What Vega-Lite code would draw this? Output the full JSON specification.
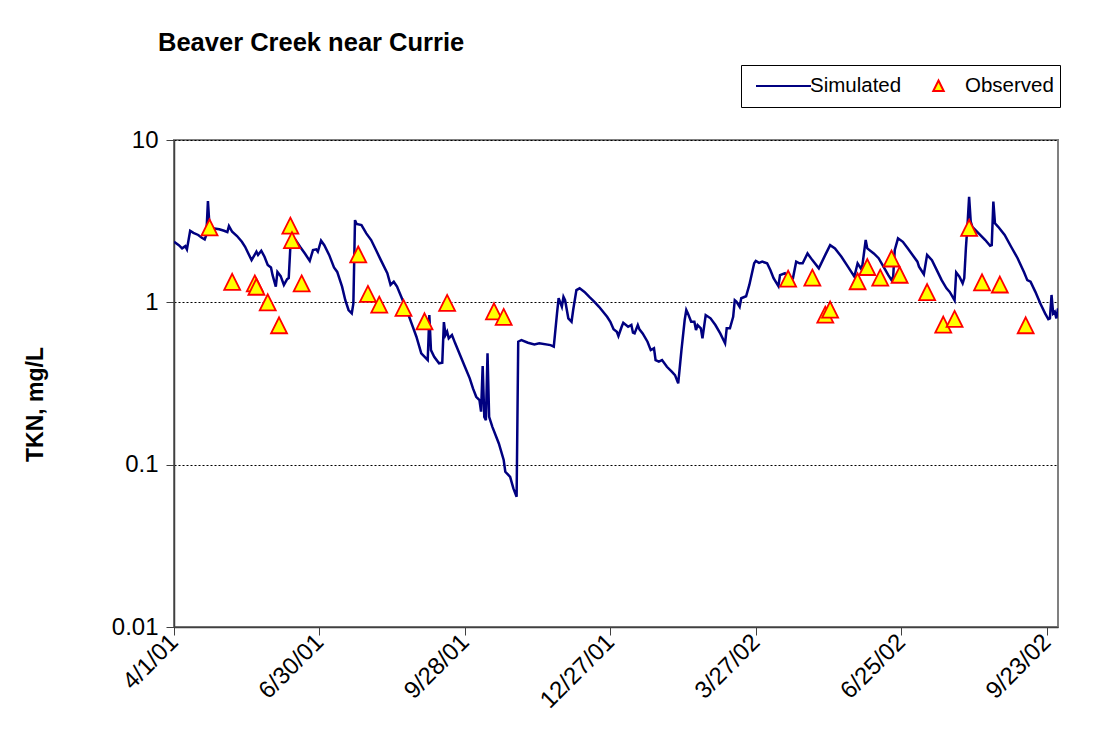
{
  "$schema": "https://vega.github.io/schema/vega-lite/v6.json",
  "autosize": "none",
  "width": 884,
  "height": 487,
  "padding": {"left": 174, "top": 140, "right": 50, "bottom": 121},
  "background": "#FFFFFF",
  "config": {
    "font": "Liberation Sans",
    "view": {"stroke": "#808080", "strokeWidth": 2},
    "axis": {"labelFont": "Liberation Sans", "titleFont": "Liberation Sans", "labelColor": "#000000", "titleColor": "#000000", "domainColor": "#404040", "domainWidth": 1.5, "tickColor": "#404040", "tickWidth": 1, "tickSize": 8}
  },
  "title": {"text": "Beaver Creek near Currie", "anchor": "start", "frame": "group", "font": "Liberation Sans", "fontSize": 25.5, "fontWeight": "bold", "color": "#000000", "baseline": "alphabetic", "offset": -12, "dx": -16},
  "datasets": {
    "sim": [
      {"date": "2001-04-01", "tkn": 2.36}, {"date": "2001-04-04", "tkn": 2.25}, {"date": "2001-04-06", "tkn": 2.15}, {"date": "2001-04-08", "tkn": 2.22}, {"date": "2001-04-09", "tkn": 2.12},
      {"date": "2001-04-11", "tkn": 2.76}, {"date": "2001-04-13", "tkn": 2.68}, {"date": "2001-04-16", "tkn": 2.60}, {"date": "2001-04-18", "tkn": 2.51}, {"date": "2001-04-20", "tkn": 2.44},
      {"date": "2001-04-21", "tkn": 2.60}, {"date": "2001-04-22", "tkn": 4.21}, {"date": "2001-04-23", "tkn": 2.92}, {"date": "2001-04-25", "tkn": 2.86}, {"date": "2001-04-29", "tkn": 2.82},
      {"date": "2001-05-02", "tkn": 2.76}, {"date": "2001-05-04", "tkn": 2.71}, {"date": "2001-05-05", "tkn": 2.95}, {"date": "2001-05-07", "tkn": 2.72}, {"date": "2001-05-10", "tkn": 2.56},
      {"date": "2001-05-13", "tkn": 2.36}, {"date": "2001-05-15", "tkn": 2.20}, {"date": "2001-05-17", "tkn": 2.00}, {"date": "2001-05-19", "tkn": 1.82}, {"date": "2001-05-22", "tkn": 2.05},
      {"date": "2001-05-23", "tkn": 1.96}, {"date": "2001-05-25", "tkn": 2.08}, {"date": "2001-05-27", "tkn": 1.91}, {"date": "2001-05-29", "tkn": 1.70}, {"date": "2001-05-31", "tkn": 1.64},
      {"date": "2001-06-01", "tkn": 1.47}, {"date": "2001-06-03", "tkn": 1.25}, {"date": "2001-06-04", "tkn": 1.54}, {"date": "2001-06-06", "tkn": 1.45}, {"date": "2001-06-08", "tkn": 1.28},
      {"date": "2001-06-10", "tkn": 1.39}, {"date": "2001-06-11", "tkn": 1.41}, {"date": "2001-06-12", "tkn": 2.20}, {"date": "2001-06-13", "tkn": 2.48}, {"date": "2001-06-15", "tkn": 2.44},
      {"date": "2001-06-18", "tkn": 2.20}, {"date": "2001-06-21", "tkn": 2.00}, {"date": "2001-06-24", "tkn": 1.80}, {"date": "2001-06-26", "tkn": 2.10}, {"date": "2001-06-28", "tkn": 2.12},
      {"date": "2001-06-29", "tkn": 2.05}, {"date": "2001-07-01", "tkn": 2.40}, {"date": "2001-07-03", "tkn": 2.25}, {"date": "2001-07-06", "tkn": 1.96}, {"date": "2001-07-09", "tkn": 1.64},
      {"date": "2001-07-11", "tkn": 1.54}, {"date": "2001-07-14", "tkn": 1.25}, {"date": "2001-07-16", "tkn": 1.03}, {"date": "2001-07-18", "tkn": 0.897}, {"date": "2001-07-20", "tkn": 0.855},
      {"date": "2001-07-21", "tkn": 0.986}, {"date": "2001-07-22", "tkn": 3.21}, {"date": "2001-07-23", "tkn": 3.04}, {"date": "2001-07-26", "tkn": 2.99}, {"date": "2001-07-29", "tkn": 2.66},
      {"date": "2001-08-01", "tkn": 2.42}, {"date": "2001-08-04", "tkn": 2.10}, {"date": "2001-08-07", "tkn": 1.82}, {"date": "2001-08-11", "tkn": 1.51}, {"date": "2001-08-13", "tkn": 1.28},
      {"date": "2001-08-15", "tkn": 1.34}, {"date": "2001-08-17", "tkn": 1.25}, {"date": "2001-08-20", "tkn": 1.06}, {"date": "2001-08-23", "tkn": 0.897}, {"date": "2001-08-26", "tkn": 0.742},
      {"date": "2001-08-29", "tkn": 0.614}, {"date": "2001-09-01", "tkn": 0.485}, {"date": "2001-09-04", "tkn": 0.452}, {"date": "2001-09-05", "tkn": 0.441}, {"date": "2001-09-06", "tkn": 0.835},
      {"date": "2001-09-07", "tkn": 0.508}, {"date": "2001-09-09", "tkn": 0.462}, {"date": "2001-09-12", "tkn": 0.421}, {"date": "2001-09-14", "tkn": 0.425}, {"date": "2001-09-15", "tkn": 0.756},
      {"date": "2001-09-16", "tkn": 0.629}, {"date": "2001-09-17", "tkn": 0.659}, {"date": "2001-09-18", "tkn": 0.600}, {"date": "2001-09-20", "tkn": 0.629}, {"date": "2001-09-22", "tkn": 0.559},
      {"date": "2001-09-25", "tkn": 0.474}, {"date": "2001-09-28", "tkn": 0.401}, {"date": "2001-10-01", "tkn": 0.340}, {"date": "2001-10-03", "tkn": 0.295}, {"date": "2001-10-05", "tkn": 0.262},
      {"date": "2001-10-07", "tkn": 0.250}, {"date": "2001-10-08", "tkn": 0.212}, {"date": "2001-10-09", "tkn": 0.405}, {"date": "2001-10-10", "tkn": 0.197}, {"date": "2001-10-11", "tkn": 0.188},
      {"date": "2001-10-12", "tkn": 0.485}, {"date": "2001-10-13", "tkn": 0.197}, {"date": "2001-10-15", "tkn": 0.171}, {"date": "2001-10-19", "tkn": 0.135}, {"date": "2001-10-22", "tkn": 0.107},
      {"date": "2001-10-23", "tkn": 0.0904}, {"date": "2001-10-26", "tkn": 0.0842}, {"date": "2001-10-28", "tkn": 0.0714}, {"date": "2001-10-30", "tkn": 0.0634}, {"date": "2001-10-31", "tkn": 0.572},
      {"date": "2001-11-02", "tkn": 0.586}, {"date": "2001-11-06", "tkn": 0.564}, {"date": "2001-11-10", "tkn": 0.551}, {"date": "2001-11-13", "tkn": 0.559}, {"date": "2001-11-20", "tkn": 0.545},
      {"date": "2001-11-22", "tkn": 0.533}, {"date": "2001-11-24", "tkn": 0.855}, {"date": "2001-11-25", "tkn": 1.06}, {"date": "2001-11-27", "tkn": 0.939}, {"date": "2001-11-28", "tkn": 1.08},
      {"date": "2001-11-29", "tkn": 1.03}, {"date": "2001-12-01", "tkn": 0.797}, {"date": "2001-12-03", "tkn": 0.759}, {"date": "2001-12-04", "tkn": 0.897}, {"date": "2001-12-06", "tkn": 1.19},
      {"date": "2001-12-08", "tkn": 1.22}, {"date": "2001-12-11", "tkn": 1.16}, {"date": "2001-12-14", "tkn": 1.08}, {"date": "2001-12-17", "tkn": 1.01}, {"date": "2001-12-20", "tkn": 0.939},
      {"date": "2001-12-25", "tkn": 0.815}, {"date": "2001-12-27", "tkn": 0.759}, {"date": "2001-12-29", "tkn": 0.682}, {"date": "2001-12-31", "tkn": 0.659}, {"date": "2002-01-01", "tkn": 0.620},
      {"date": "2002-01-03", "tkn": 0.707}, {"date": "2002-01-04", "tkn": 0.749}, {"date": "2002-01-07", "tkn": 0.707}, {"date": "2002-01-09", "tkn": 0.725}, {"date": "2002-01-10", "tkn": 0.650},
      {"date": "2002-01-11", "tkn": 0.644}, {"date": "2002-01-13", "tkn": 0.725}, {"date": "2002-01-14", "tkn": 0.682}, {"date": "2002-01-16", "tkn": 0.644}, {"date": "2002-01-19", "tkn": 0.572},
      {"date": "2002-01-21", "tkn": 0.508}, {"date": "2002-01-23", "tkn": 0.521}, {"date": "2002-01-24", "tkn": 0.441}, {"date": "2002-01-26", "tkn": 0.431}, {"date": "2002-01-28", "tkn": 0.441},
      {"date": "2002-01-31", "tkn": 0.401}, {"date": "2002-02-03", "tkn": 0.374}, {"date": "2002-02-05", "tkn": 0.356}, {"date": "2002-02-07", "tkn": 0.317}, {"date": "2002-02-08", "tkn": 0.401},
      {"date": "2002-02-09", "tkn": 0.508}, {"date": "2002-02-11", "tkn": 0.778}, {"date": "2002-02-12", "tkn": 0.897}, {"date": "2002-02-13", "tkn": 0.855}, {"date": "2002-02-15", "tkn": 0.759},
      {"date": "2002-02-17", "tkn": 0.759}, {"date": "2002-02-18", "tkn": 0.675}, {"date": "2002-02-19", "tkn": 0.725}, {"date": "2002-02-21", "tkn": 0.692}, {"date": "2002-02-22", "tkn": 0.600},
      {"date": "2002-02-24", "tkn": 0.835}, {"date": "2002-02-27", "tkn": 0.797}, {"date": "2002-03-02", "tkn": 0.725}, {"date": "2002-03-05", "tkn": 0.644}, {"date": "2002-03-08", "tkn": 0.559},
      {"date": "2002-03-09", "tkn": 0.692}, {"date": "2002-03-11", "tkn": 0.692}, {"date": "2002-03-13", "tkn": 0.815}, {"date": "2002-03-14", "tkn": 1.03}, {"date": "2002-03-15", "tkn": 1.01},
      {"date": "2002-03-17", "tkn": 0.939}, {"date": "2002-03-18", "tkn": 1.06}, {"date": "2002-03-21", "tkn": 1.09}, {"date": "2002-03-23", "tkn": 1.28}, {"date": "2002-03-26", "tkn": 1.74},
      {"date": "2002-03-27", "tkn": 1.80}, {"date": "2002-03-29", "tkn": 1.75}, {"date": "2002-03-31", "tkn": 1.78}, {"date": "2002-04-03", "tkn": 1.74}, {"date": "2002-04-05", "tkn": 1.58},
      {"date": "2002-04-07", "tkn": 1.41}, {"date": "2002-04-10", "tkn": 1.26}, {"date": "2002-04-11", "tkn": 1.47}, {"date": "2002-04-14", "tkn": 1.51}, {"date": "2002-04-16", "tkn": 1.44},
      {"date": "2002-04-19", "tkn": 1.41}, {"date": "2002-04-21", "tkn": 1.78}, {"date": "2002-04-23", "tkn": 1.74}, {"date": "2002-04-25", "tkn": 1.74}, {"date": "2002-04-28", "tkn": 2.00},
      {"date": "2002-05-01", "tkn": 1.82}, {"date": "2002-05-05", "tkn": 1.62}, {"date": "2002-05-09", "tkn": 1.96}, {"date": "2002-05-12", "tkn": 2.25}, {"date": "2002-05-15", "tkn": 2.15},
      {"date": "2002-05-19", "tkn": 1.91}, {"date": "2002-05-23", "tkn": 1.66}, {"date": "2002-05-27", "tkn": 1.44}, {"date": "2002-05-29", "tkn": 1.74}, {"date": "2002-05-31", "tkn": 1.62},
      {"date": "2002-06-01", "tkn": 1.70}, {"date": "2002-06-03", "tkn": 2.42}, {"date": "2002-06-04", "tkn": 2.15}, {"date": "2002-06-08", "tkn": 2.00}, {"date": "2002-06-11", "tkn": 1.87},
      {"date": "2002-06-14", "tkn": 1.66}, {"date": "2002-06-17", "tkn": 1.47}, {"date": "2002-06-19", "tkn": 1.37}, {"date": "2002-06-20", "tkn": 1.44}, {"date": "2002-06-21", "tkn": 2.10},
      {"date": "2002-06-23", "tkn": 2.48}, {"date": "2002-06-26", "tkn": 2.36}, {"date": "2002-06-29", "tkn": 2.15}, {"date": "2002-07-02", "tkn": 1.96}, {"date": "2002-07-05", "tkn": 1.78},
      {"date": "2002-07-06", "tkn": 1.66}, {"date": "2002-07-09", "tkn": 1.49}, {"date": "2002-07-11", "tkn": 1.96}, {"date": "2002-07-14", "tkn": 1.82}, {"date": "2002-07-17", "tkn": 1.58},
      {"date": "2002-07-20", "tkn": 1.37}, {"date": "2002-07-23", "tkn": 1.22}, {"date": "2002-07-25", "tkn": 1.16}, {"date": "2002-07-28", "tkn": 1.03}, {"date": "2002-07-29", "tkn": 1.53},
      {"date": "2002-07-31", "tkn": 1.44}, {"date": "2002-08-02", "tkn": 1.31}, {"date": "2002-08-03", "tkn": 1.41}, {"date": "2002-08-04", "tkn": 2.15}, {"date": "2002-08-05", "tkn": 2.99},
      {"date": "2002-08-06", "tkn": 4.47}, {"date": "2002-08-07", "tkn": 3.14}, {"date": "2002-08-08", "tkn": 2.92}, {"date": "2002-08-11", "tkn": 2.72}, {"date": "2002-08-16", "tkn": 2.42},
      {"date": "2002-08-19", "tkn": 2.23}, {"date": "2002-08-20", "tkn": 2.25}, {"date": "2002-08-21", "tkn": 4.17}, {"date": "2002-08-22", "tkn": 3.07}, {"date": "2002-08-24", "tkn": 2.92},
      {"date": "2002-08-28", "tkn": 2.60}, {"date": "2002-09-01", "tkn": 2.20}, {"date": "2002-09-05", "tkn": 1.87}, {"date": "2002-09-09", "tkn": 1.53}, {"date": "2002-09-11", "tkn": 1.37},
      {"date": "2002-09-13", "tkn": 1.34}, {"date": "2002-09-16", "tkn": 1.16}, {"date": "2002-09-19", "tkn": 0.986}, {"date": "2002-09-22", "tkn": 0.855}, {"date": "2002-09-24", "tkn": 0.789},
      {"date": "2002-09-25", "tkn": 0.797}, {"date": "2002-09-26", "tkn": 1.11}, {"date": "2002-09-27", "tkn": 0.855}, {"date": "2002-09-28", "tkn": 0.875}, {"date": "2002-09-29", "tkn": 0.797},
      {"date": "2002-09-30", "tkn": 0.918}
    ],
    "obs": [
      {"date": "2001-04-23", "tkn": 2.88, "series": "Observed"}, {"date": "2001-05-07", "tkn": 1.33, "series": "Observed"}, {"date": "2001-05-21", "tkn": 1.30, "series": "Observed"},
      {"date": "2001-05-22", "tkn": 1.24, "series": "Observed"}, {"date": "2001-05-29", "tkn": 0.994, "series": "Observed"}, {"date": "2001-06-05", "tkn": 0.718, "series": "Observed"},
      {"date": "2001-06-12", "tkn": 2.95, "series": "Observed"}, {"date": "2001-06-13", "tkn": 2.40, "series": "Observed"}, {"date": "2001-06-19", "tkn": 1.30, "series": "Observed"},
      {"date": "2001-07-24", "tkn": 1.96, "series": "Observed"}, {"date": "2001-07-30", "tkn": 1.12, "series": "Observed"}, {"date": "2001-08-06", "tkn": 0.962, "series": "Observed"},
      {"date": "2001-08-21", "tkn": 0.918, "series": "Observed"}, {"date": "2001-09-03", "tkn": 0.759, "series": "Observed"}, {"date": "2001-09-17", "tkn": 0.986, "series": "Observed"},
      {"date": "2001-10-16", "tkn": 0.875, "series": "Observed"}, {"date": "2001-10-22", "tkn": 0.808, "series": "Observed"}, {"date": "2002-04-16", "tkn": 1.39, "series": "Observed"},
      {"date": "2002-05-01", "tkn": 1.41, "series": "Observed"}, {"date": "2002-05-09", "tkn": 0.835, "series": "Observed"}, {"date": "2002-05-12", "tkn": 0.897, "series": "Observed"},
      {"date": "2002-05-29", "tkn": 1.34, "series": "Observed"}, {"date": "2002-06-04", "tkn": 1.64, "series": "Observed"}, {"date": "2002-06-12", "tkn": 1.41, "series": "Observed"},
      {"date": "2002-06-19", "tkn": 1.85, "series": "Observed"}, {"date": "2002-06-24", "tkn": 1.47, "series": "Observed"}, {"date": "2002-07-11", "tkn": 1.15, "series": "Observed"},
      {"date": "2002-07-21", "tkn": 0.725, "series": "Observed"}, {"date": "2002-07-28", "tkn": 0.786, "series": "Observed"}, {"date": "2002-08-06", "tkn": 2.86, "series": "Observed"},
      {"date": "2002-08-14", "tkn": 1.32, "series": "Observed"}, {"date": "2002-08-25", "tkn": 1.28, "series": "Observed"}, {"date": "2002-09-10", "tkn": 0.718, "series": "Observed"}
    ]
  },
  "encoding": {
    "x": {
      "field": "date", "type": "temporal",
      "scale": {"type": "utc", "domain": [{"year": 2001, "month": 4, "date": 1, "utc": true}, {"year": 2002, "month": 9, "date": 30, "utc": true}]},
      "axis": {
        "title": null, "grid": false,
        "values": [
          {"year": 2001, "month": 4, "date": 1, "utc": true}, {"year": 2001, "month": 6, "date": 30, "utc": true}, {"year": 2001, "month": 9, "date": 28, "utc": true},
          {"year": 2001, "month": 12, "date": 27, "utc": true}, {"year": 2002, "month": 3, "date": 27, "utc": true}, {"year": 2002, "month": 6, "date": 25, "utc": true},
          {"year": 2002, "month": 9, "date": 23, "utc": true}
        ],
        "labelExpr": "utcFormat(datum.value, '%-m/%-d/%y')",
        "labelAngle": -45, "labelAlign": "right", "labelBaseline": "middle", "labelFontSize": 24, "labelPadding": 3, "labelOverlap": false, "labelFlush": false
      }
    },
    "y": {
      "field": "tkn", "type": "quantitative",
      "scale": {"type": "log", "domain": [0.01, 10]},
      "axis": {
        "title": "TKN, mg/L", "titleFontSize": 23, "titleFontWeight": "bold", "titleAngle": -90, "titleAlign": "center", "titleBaseline": "alphabetic", "titleX": -132, "titleY": 264,
        "values": [0.01, 0.1, 1, 10], "format": "~g", "labelFontSize": 24, "labelPadding": 8,
        "grid": true, "gridColor": "#000000", "gridDash": [2, 2], "gridWidth": 1
      }
    }
  },
  "layer": [
    {
      "data": {"name": "sim"},
      "mark": {"type": "line", "color": "#000080", "strokeWidth": 2.5, "clip": true, "interpolate": "linear"}
    },
    {
      "data": {"name": "obs"},
      "mark": {"type": "point", "filled": true, "fill": "#FFFF00", "strokeWidth": 1.8, "size": 7056, "opacity": 1},
      "encoding": {
        "shape": {
          "field": "series", "type": "nominal",
          "scale": {"domain": ["Simulated", "Observed"], "range": ["M-1,0H1", "M0,-0.2L0.19,0.18L-0.19,0.18Z"]},
          "legend": {
            "title": null, "orient": "none", "legendX": 567, "legendY": -75, "direction": "horizontal",
            "symbolSize": 3025, "clipHeight": 30, "labelFontSize": 20.5, "labelFont": "Liberation Sans", "labelColor": "#000000",
            "labelOffset": -2, "columnPadding": 0, "padding": 6, "symbolOffset": 8, "symbolStrokeWidth": 2,
            "strokeColor": "#000000", "fillColor": "#FFFFFF"
          }
        },
        "stroke": {
          "field": "series", "type": "nominal",
          "scale": {"domain": ["Simulated", "Observed"], "range": ["#000080", "#FF0000"]},
          "legend": {
            "title": null, "orient": "none", "legendX": 567, "legendY": -75, "direction": "horizontal",
            "symbolSize": 3025, "clipHeight": 30, "labelFontSize": 20.5, "labelFont": "Liberation Sans", "labelColor": "#000000",
            "labelOffset": -2, "columnPadding": 0, "padding": 6, "symbolOffset": 8, "symbolStrokeWidth": 2,
            "strokeColor": "#000000", "fillColor": "#FFFFFF"
          }
        }
      }
    }
  ]
}
